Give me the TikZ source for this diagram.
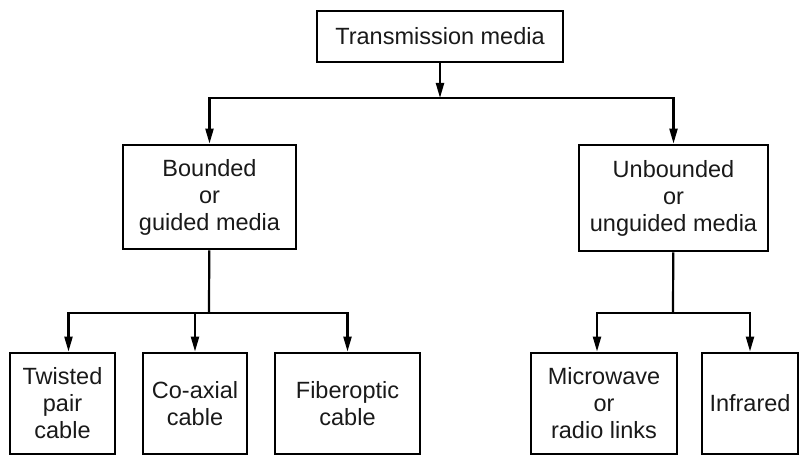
\documentclass[tikz,border=0pt]{standalone}
\usepackage{fontspec}
\setmainfont{Liberation Sans}
\usetikzlibrary{arrows.meta}

\begin{document}
\begin{tikzpicture}[x=1pt, y=-1pt,
  box/.style={draw, line width=2.8pt, align=center, inner sep=0pt,
    font=\fontsize{23.5}{27}\selectfont, text=black!90},
  conn/.style={line width=2.2pt},
  arr/.style={conn, -{Triangle[length=15pt,width=8pt]}}]
\useasboundingbox (0,0) rectangle (804,457);

% Nivel superior
\node[box, minimum width=246, minimum height=51] (tm) at (440,36.5) {Transmission media};

% Medios
\node[box, minimum width=173, minimum height=104] (bg) at (209.5,197) {Bounded\\or\\guided media};
\node[box, minimum width=189, minimum height=106] (ug) at (673.5,198) {Unbounded\\or\\unguided media};

% Tipos
\node[box, minimum width=105, minimum height=101] (tp) at (62.5,403.5) {Twisted\\pair\\cable};
\node[box, minimum width=104, minimum height=101] (cx) at (195,403.5) {Co-axial\\cable};
\node[box, minimum width=145, minimum height=101] (fo) at (347.5,403.5) {Fiberoptic\\cable};
\node[box, minimum width=146, minimum height=101] (mw) at (604,403.5) {Microwave\\or\\radio links};
\node[box, minimum width=96, minimum height=101] (ir) at (750,403.5) {Infrared};

% Conexiones
\coordinate (s1) at (440,98);
\coordinate (s2) at (209,313);
\coordinate (s3) at (673,313);
\draw[arr] (tm) -- (s1);
\draw[arr] (s1) -| (bg);
\draw[arr] (s1) -| (ug);
\draw[conn] (bg) -- (s2);
\draw[arr] (s2) -| ([xshift=6]tp.north);
\draw[arr] (s2) -| (cx);
\draw[arr] (s2) -| (fo);
\draw[conn] (ug) -- (s3);
\draw[arr] (s3) -| ([xshift=-7]mw.north);
\draw[arr] (s3) -| (ir);
\end{tikzpicture}
\end{document}
